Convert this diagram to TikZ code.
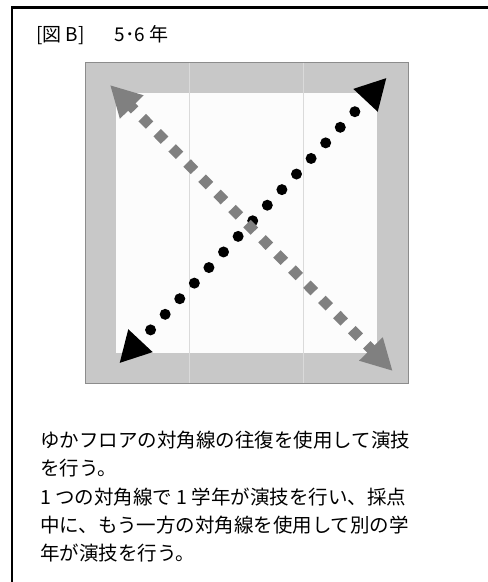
\documentclass[tikz,border=0pt]{standalone}
\usepackage{fontspec}
\setmainfont{Noto Sans CJK JP}
\usepackage{tikz}
\usetikzlibrary{positioning, arrows.meta}
\definecolor{flBand}{RGB}{200, 200, 200}
\definecolor{flMat}{RGB}{252, 252, 252}
\definecolor{flEdge}{RGB}{140, 140, 140}
\definecolor{flSeam}{RGB}{218, 218, 218}
\definecolor{flGray}{RGB}{128, 128, 128}
\tikzset{
    base/.style={
        inner sep=0pt,
        anchor=base west
    },
    heading/.style={
        base,
        font=\fontsize{19}{22}\selectfont
    },
    note/.style={
        base,
        font=\fontsize{19.5}{28}\selectfont
    },
    frame/.style={
        line width=2.5pt,
        color=black
    },
    band/.style={
        fill=flBand,
        draw=flEdge,
        line width=1pt
    },
    mat/.style={
        fill=flMat
    },
    seam/.style={
        draw=flSeam,
        line width=1pt
    },
    dotpath/.style={
        <->,
        >={Triangle[length=31pt, width=31pt]},
        line width=11pt,
        line cap=round,
        dash pattern=on 0pt off 21.35pt,
        dash phase=4.65pt,
        color=black
    },
    diapath/.style={
        <->,
        >={Triangle[length=31pt, width=31pt]},
        line width=10.5pt,
        dash pattern=on 10.5pt off 10.8pt,
        dash phase=4.55pt,
        color=flGray
    }
}
\begin{document}
\begin{tikzpicture}[x=1pt, y=-1pt]
  \useasboundingbox (0,0) rectangle (488,582);

  % Outer frame
  \draw[frame] (488,7.5) -- (12,7.5) -- (12,582);

  % Title
  \node[heading] (title) at (36,41) {[図 B]\hspace{30pt}5･6 年};

  % Floor
  \draw[band] (85,62) rectangle (408,383);
  \fill[mat] (116,93) rectangle (377,353);
  \draw[seam] (189,62.5) -- (189,382.5);
  \draw[seam] (303,62.5) -- (303,382.5);

  % Diagonal corners
  \coordinate (sw) at (119.3,363.3);
  \coordinate (ne) at (386.7,77.7);
  \coordinate (nw) at (110,85);
  \coordinate (se) at (392.7,371);

  % Diagonals
  \draw[dotpath] (sw) -- (ne);
  \draw[diapath] (nw) -- (se);

  % Notes
  \node[note] (line1) at (40,447.5) {ゆかフロアの対角線の往復を使用して演技};
  \node[note] (line2) at (40,475.8) {を行う。};
  \node[note] (line3) at (40,504.1) {1 つの対角線で 1 学年が演技を行い、採点};
  \node[note] (line4) at (40,532.4) {中に、もう一方の対角線を使用して別の学};
  \node[note] (line5) at (40,560.7) {年が演技を行う。};
\end{tikzpicture}
\end{document}
